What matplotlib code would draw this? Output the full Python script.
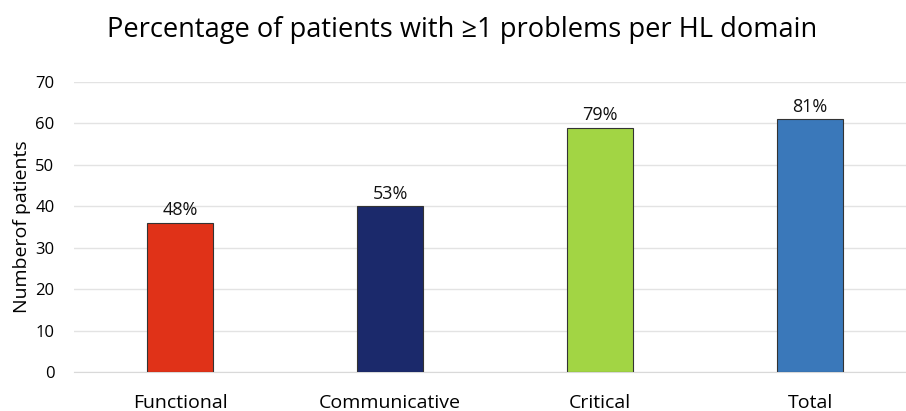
import matplotlib
matplotlib.use("Agg")
import matplotlib.pyplot as plt

categories = ["Functional", "Communicative", "Critical", "Total"]
values = [36, 40, 59, 61]
labels = ["48%", "53%", "79%", "81%"]
colors = ["#E03218", "#1B296B", "#A2D544", "#3A78BA"]
yticks = [0, 10, 20, 30, 40, 50, 60, 70]

plt.rcParams['font.family'] = ['Open Sans', 'DejaVu Sans']

fig = plt.figure(figsize=(9.06, 4.11), dpi=100)
ax = fig.add_axes([74/906, 39/411, (906-74)/906, 290/411])

x = list(range(len(categories)))
bars = ax.bar(x, values, width=0.314, color=colors, edgecolor="#333333", linewidth=0.8, zorder=3)
for xi, v, lab in zip(x, values, labels):
    ax.text(xi, v + 0.9, lab, ha="center", va="bottom", fontsize=13, color="#111111")

ax.set_xlim((74-180)/210, (906-180)/210)
ax.set_ylim(0, 70)
ax.set_yticks(yticks)
ax.set_xticks(x)
ax.set_xticklabels(categories, fontsize=14)
ax.tick_params(axis='x', length=0, pad=16)
ax.tick_params(axis='y', length=0, labelsize=12, pad=14)
ax.grid(axis='y', color="#E3E3E3", linewidth=1, zorder=0)
for s in ["top", "right", "left"]:
    ax.spines[s].set_visible(False)
ax.spines["bottom"].set_color("#D9D9D9")
ax.set_ylabel("Numberof patients", fontsize=14, labelpad=3)
fig.text(462/906, 0.928, "Percentage of patients with ≥1 problems per HL domain", ha="center", va="center", fontsize=19.6)

fig.savefig("out.png", dpi=100)
